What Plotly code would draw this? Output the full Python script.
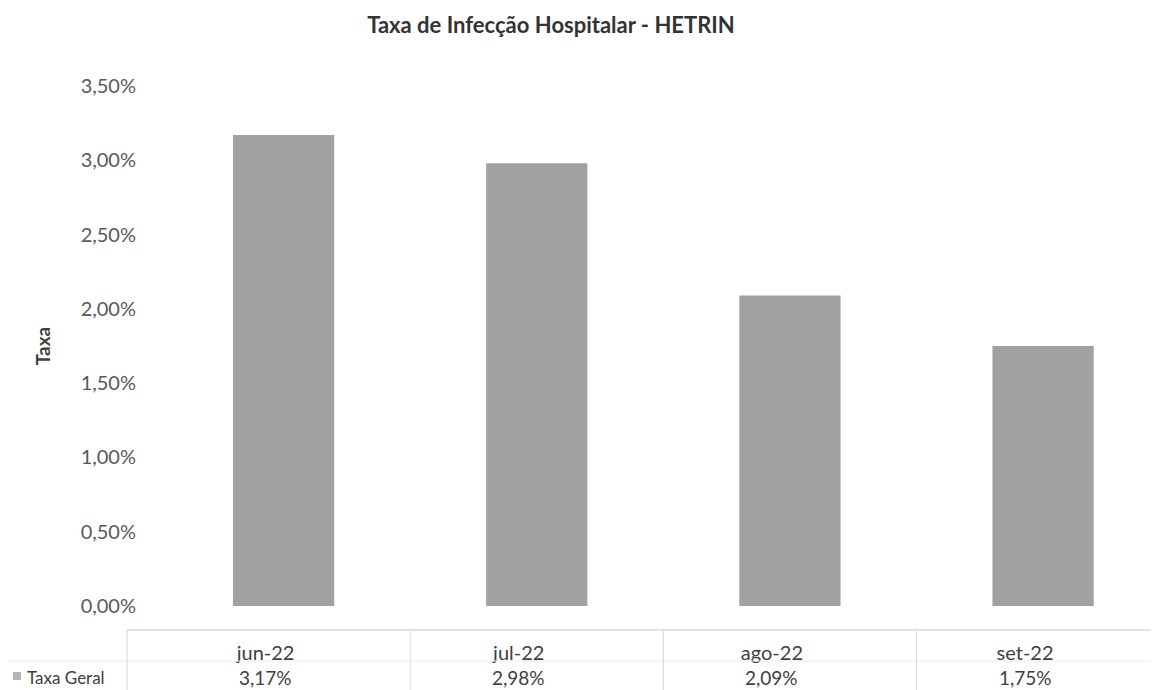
import plotly.graph_objects as go

meses = ["jun-22", "jul-22", "ago-22", "set-22"]
taxa_geral = [0.0317, 0.0298, 0.0209, 0.0175]
serie_nome = "Taxa Geral"
y_ticks = [0, 0.005, 0.01, 0.015, 0.02, 0.025, 0.03, 0.035]

# a página tem margem de 8px no body, então a figura é desenhada a partir de (8, 8)
OFF = 8
W, H = 1159 - OFF, 690 - OFF
L, R, T, B = 157 - OFF, 2, 86 - OFF, H - (606 - OFF)
fonte = "Lato"
cinza_txt = "#595959"
cinza_linha = "#d9d9d9"


def px_x(p):
    # pixel da tela -> paper x
    return (p - OFF - L) / (W - L - R)


def px_y(p):
    # pixel da tela -> paper y
    return (H - B - (p - OFF)) / (H - T - B)


fig = go.Figure()
fig.add_trace(go.Bar(
    x=list(range(len(meses))),
    y=taxa_geral,
    width=0.4,
    marker=dict(color="#a2a2a2", line=dict(width=0)),
    name=serie_nome,
    showlegend=False,
))

# linha de valores da tabela de dados
for i, v in enumerate(taxa_geral):
    fig.add_annotation(
        x=i, y=px_y(677), xref="x", yref="paper",
        text=f"{v * 100:.2f}%".replace(".", ","),
        showarrow=False, xshift=-18, yanchor="middle",
        font=dict(family=fonte, size=19, color="#404040"),
    )

fig.add_annotation(
    x=px_x(25), y=px_y(677), xref="paper", yref="paper",
    text=serie_nome, showarrow=False, xanchor="left", yanchor="middle",
    font=dict(family=fonte, size=17, color="#404040"),
)

# marcador da legenda
fig.add_shape(type="rect", xref="paper", yref="paper",
              x0=px_x(13), x1=px_x(21), y0=px_y(680), y1=px_y(672),
              fillcolor="#b5b5b5", line=dict(width=0))

# grade da tabela
fig.add_shape(type="line", xref="paper", yref="paper",
              x0=px_x(127), x1=1.01, y0=px_y(630), y1=px_y(630),
              line=dict(color=cinza_linha, width=1.5))
fig.add_shape(type="line", xref="paper", yref="paper",
              x0=px_x(0), x1=1.01, y0=px_y(661), y1=px_y(661),
              line=dict(color="#ececec", width=1))
fig.add_shape(type="line", xref="paper", yref="paper",
              x0=px_x(127), x1=px_x(127), y0=px_y(630), y1=px_y(700),
              line=dict(color=cinza_linha, width=1))
for i in range(len(meses) - 1):
    fig.add_shape(type="line", xref="x", yref="paper",
                  x0=i + 0.5, x1=i + 0.5, y0=px_y(630), y1=px_y(700),
                  line=dict(color=cinza_linha, width=1))

fig.update_layout(
    width=W, height=H,
    margin=dict(l=L, r=R, t=T, b=B),
    paper_bgcolor="white", plot_bgcolor="white",
    separators=",.",
    font=dict(family=fonte, color=cinza_txt),
    title=dict(
        text="<b>Taxa de Infecção Hospitalar - HETRIN</b>",
        x=(551 - OFF) / W, xanchor="center", xref="container",
        y=1 - (25 - OFF) / H, yanchor="middle", yref="container",
        font=dict(family=fonte, size=22, color="#333333"),
    ),
    bargap=0.6,
)

fig.update_xaxes(
    range=[-0.5, 3.45],
    tickvals=list(range(len(meses))), ticktext=meses,
    showline=False, showgrid=False, zeroline=False,
    ticks="", ticklabelstandoff=33, ticklabelshift=-18,
    tickfont=dict(family=fonte, size=20, color="#404040"),
)
fig.update_yaxes(
    range=[0, 0.035], tickvals=y_ticks, tickformat=".2%",
    showline=False, showgrid=False, zeroline=False,
    ticks="", ticklabelstandoff=20,
    tickfont=dict(family=fonte, size=20, color=cinza_txt),
    title=dict(text="<b>Taxa</b>", standoff=24,
               font=dict(family=fonte, size=19, color="#404040")),
)

fig.write_html("out.html")
